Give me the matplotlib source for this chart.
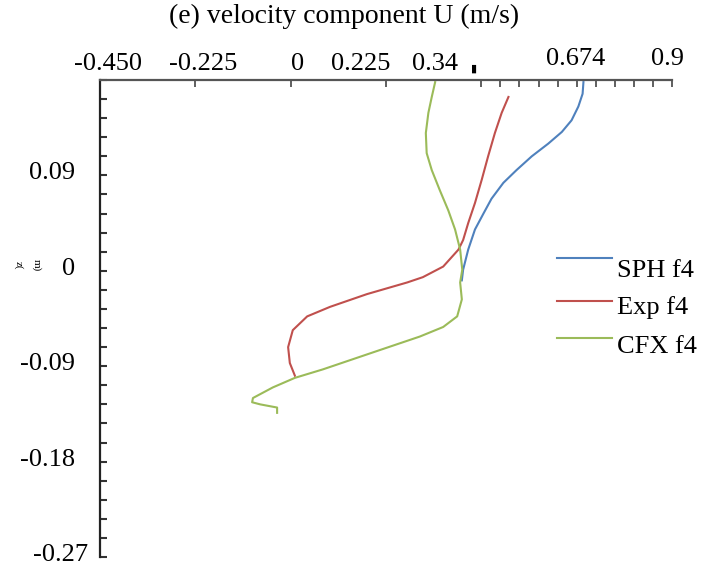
import matplotlib.pyplot as plt
from matplotlib.ticker import FixedLocator

plt.rcParams['font.family'] = ['Liberation Serif', 'DejaVu Sans']

# Profil prędkości U (m/s) w funkcji wysokości z (m)
sph_u = [0.691, 0.689, 0.679, 0.663, 0.640, 0.608, 0.569, 0.533, 0.502, 0.474, 0.455, 0.435,
         0.419, 0.407, 0.404]
sph_z = [0.178, 0.167, 0.155, 0.142, 0.131, 0.120, 0.108, 0.095, 0.083, 0.068, 0.054, 0.039,
         0.020, 0.001, -0.009]

exp_u = [0.514, 0.498, 0.482, 0.466, 0.451, 0.435, 0.419, 0.407, 0.396, 0.360, 0.312, 0.275,
         0.180, 0.093, 0.039, 0.005, -0.006, -0.002, 0.010]
exp_z = [0.164, 0.149, 0.130, 0.108, 0.086, 0.064, 0.045, 0.029, 0.020, 0.004, -0.006, -0.011,
         -0.022, -0.034, -0.043, -0.056, -0.072, -0.087, -0.099]

cfx_u = [0.341, 0.333, 0.325, 0.319, 0.321, 0.333, 0.352, 0.372, 0.388, 0.400, 0.405, 0.400,
         0.404, 0.393, 0.360, 0.305, 0.194, 0.076, 0.010, -0.042, -0.089, -0.091, -0.072,
         -0.032, -0.032]
cfx_z = [0.178, 0.164, 0.149, 0.130, 0.111, 0.095, 0.076, 0.057, 0.039, 0.020, 0.001, -0.011,
         -0.027, -0.043, -0.053, -0.062, -0.077, -0.093, -0.101, -0.110, -0.120, -0.124, -0.126,
         -0.129, -0.134]

series_names = ["SPH f4", "Exp f4", "CFX f4"]
colors = ["#4f81bd", "#c0504d", "#9bbb59"]

# opisy osi (tekst i polozenie w danych)
x_labels = ["-0.450", "-0.225", "0", "0.225", "0.34", "\u25ae", "0.674", "0.9"]
x_label_pos = [-0.431, -0.207, 0.017, 0.166, 0.341, 0.433, 0.673, 0.890]
y_labels = ["0.09", "0", "-0.09", "-0.18", "-0.27"]
y_label_pos = [0.09, 0.0, -0.09, -0.18, -0.27]

fig = plt.figure(figsize=(7.01, 5.69), dpi=100)
ax = fig.add_axes([100/701, 12/569, 572/701, 477/569])

data = [(sph_u, sph_z), (exp_u, exp_z), (cfx_u, cfx_z)]
for (u, z), c in zip(data, colors):
    ax.plot(u, z, color=c, lw=1.5, solid_joinstyle='round')

ax.set_xlim(-0.45, 0.9)
ax.set_ylim(-0.27, 0.18)

ax.spines['right'].set_visible(False)
ax.spines['bottom'].set_visible(False)
ax.spines['top'].set_color('#555555')
ax.spines['top'].set_linewidth(1.6)
ax.spines['left'].set_color('#222222')
ax.spines['left'].set_linewidth(1.6)

ax.xaxis.tick_top()
ax.xaxis.set_major_locator(FixedLocator([-0.45, -0.225, 0, 0.225, 0.45, 0.675, 0.9]))
ax.xaxis.set_minor_locator(FixedLocator([0.495, 0.54, 0.585, 0.63, 0.72, 0.765, 0.81, 0.855]))
ax.yaxis.set_major_locator(FixedLocator([-0.27 + 0.018 * i for i in range(26)]))
ax.tick_params(axis='x', which='both', direction='in', length=5, width=1.2,
               color='#444444', labeltop=False, labelbottom=False)
ax.tick_params(axis='y', which='both', direction='in', length=5, width=1.5,
               color='#333333', labelleft=False)

for txt, xv in zip(x_labels, x_label_pos):
    if txt == "\u25ae":
        ax.annotate(txt, xy=(xv, 1), xycoords=('data', 'axes fraction'),
                    xytext=(0, 11), textcoords='offset pixels',
                    ha='center', va='center', fontsize=8, family='DejaVu Sans')
    else:
        dy = 21 if txt in ("0.674", "0.9") else 16
        ax.annotate(txt, xy=(xv, 1), xycoords=('data', 'axes fraction'),
                    xytext=(0, dy), textcoords='offset pixels',
                    ha='center', va='center', fontsize=19)

for txt, yv in zip(y_labels, y_label_pos):
    dx = -12 if txt == "-0.27" else -25
    ax.annotate(txt, xy=(0, yv), xycoords=('axes fraction', 'data'),
                xytext=(dx, 2), textcoords='offset pixels',
                ha='right', va='center', fontsize=19)

fig.text(344/701, 1 - 16/569, "(e) velocity component U (m/s)",
         ha='center', va='center', fontsize=20)

# oznaczenie osi z
fig.text(18/701, 1 - 265/569, "z(", rotation=270, ha='center', va='center', fontsize=8)
fig.text(37/701, 1 - 265/569, "m)", rotation=270, ha='center', va='center', fontsize=8)

# legenda rysowana recznie (linia nad opisem)
leg_line_y = [0.627, 0.537, 0.459]
leg_text_y = [0.587, 0.509, 0.428]
for name, c, ly, ty in zip(series_names, colors, leg_line_y, leg_text_y):
    ax.plot([0.799, 0.895], [ly, ly], color=c, lw=1.5, transform=ax.transAxes, clip_on=False)
    ax.text(0.904, ty, name, transform=ax.transAxes, ha='left', va='baseline', fontsize=19)

fig.savefig('out.png', dpi=100)
